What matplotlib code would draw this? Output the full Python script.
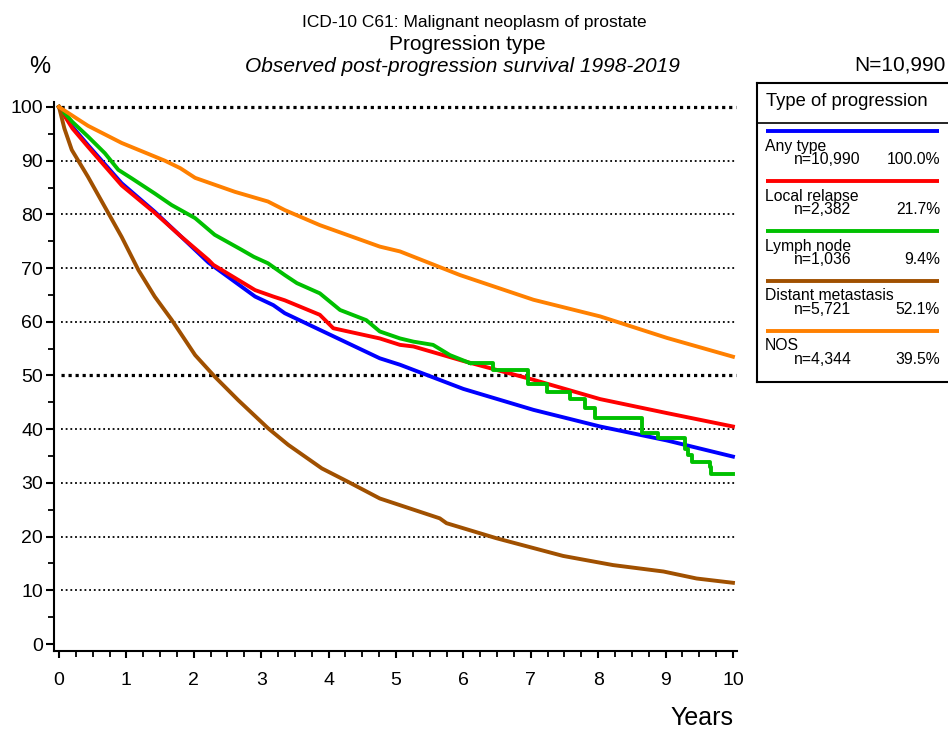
import matplotlib
matplotlib.use("Agg")
import matplotlib.pyplot as plt
import numpy as np

plt.rcParams['font.family'] = ['Liberation Sans', 'DejaVu Sans']

# survival (%) by years since progression, read per group
any_t = [0, 0.2, 0.43, 0.93, 1.42, 1.8, 2.22, 2.91, 3.18, 3.35, 3.87, 4.76, 5.06, 6.0, 7.04, 8.03, 9.02, 10.0]
any_v = [100, 96.3, 92.9, 85.8, 80.5, 76.0, 71.0, 64.7, 63.1, 61.6, 58.5, 53.2, 52.0, 47.5, 43.6, 40.5, 37.9, 34.9]

local_t = [0, 0.2, 0.43, 0.93, 1.42, 1.8, 2.22, 2.29, 2.91, 3.18, 3.35, 3.87, 4.07, 4.76, 5.06, 5.26, 6.0, 7.04, 8.03, 9.02, 10.0]
local_v = [100, 96.0, 92.6, 85.4, 80.3, 76.0, 71.5, 70.6, 65.9, 64.7, 64.0, 61.3, 58.8, 56.9, 55.7, 55.4, 52.7, 49.2, 45.6, 43.0, 40.5]

lymph_t = [0, 0.2, 0.43, 0.68, 0.88, 1.08, 1.42, 1.67, 2.02, 2.31, 2.71, 2.89, 3.1, 3.35, 3.53, 3.87, 4.17,
           4.56, 4.76, 5.06, 5.26, 5.55, 5.8, 6.1,
           6.44, 6.96, 7.24, 7.58, 7.80, 7.95, 8.65, 8.89, 9.29, 9.34, 9.39, 9.66, 9.68, 10.0]
lymph_v = [100, 97.2, 94.5, 91.4, 88.3, 86.7, 83.9, 81.75, 79.3, 76.2, 73.4, 72.1, 70.9, 68.7, 67.2, 65.3, 62.2,
           60.3, 58.2, 56.9, 56.3, 55.7, 53.8, 52.3,
           51.0, 48.5, 47.0, 45.6, 43.9, 42.0, 39.2, 38.3, 36.4, 35.2, 33.9, 33.0, 31.7, 31.7]
lymph_step_from = 6.1  # few patients left: curve shown as steps

distant_t = [0, 0.08, 0.19, 0.43, 0.68, 0.93, 1.18, 1.42, 1.67, 2.02, 2.31, 2.66, 3.1, 3.4, 3.9, 4.29, 4.76,
             5.65, 5.75, 6.49, 7.48, 8.22, 8.97, 9.46, 10.0]
distant_v = [100, 96.0, 92.0, 87.0, 81.4, 75.8, 69.6, 64.7, 60.4, 53.8, 49.8, 45.4, 40.2, 37.1, 32.7, 30.2, 27.1,
             23.4, 22.5, 19.7, 16.4, 14.7, 13.5, 12.2, 11.4]

nos_t = [0, 0.43, 0.93, 1.57, 1.8, 2.02, 2.61, 3.1, 3.35, 3.87, 4.76, 5.06, 5.95, 7.04, 8.03, 9.02, 10.0]
nos_v = [100, 96.5, 93.3, 90.0, 88.6, 86.8, 84.2, 82.4, 80.8, 78.0, 74.0, 73.1, 68.7, 64.1, 61.0, 57.0, 53.5]

group_names = ['Any type', 'Local relapse', 'Lymph node', 'Distant metastasis', 'NOS']
group_n = ['n=10,990', 'n=2,382', 'n=1,036', 'n=5,721', 'n=4,344']
group_pct = ['100.0%', '21.7%', '9.4%', '52.1%', '39.5%']
group_colors = ['#0000FF', '#FF0000', '#00C000', '#A05000', '#FF8000']

y_ticks = np.arange(0, 101, 10)
x_ticks = np.arange(0, 11, 1)

W, H = 948, 729
fig = plt.figure(figsize=(W / 100, H / 100), dpi=100)

ax = fig.add_axes([54 / W, 1 - 651 / H, (737 - 54) / W, (651 - 101.6) / H])
ax.set_xlim(-0.074, 10.06)
ax.set_ylim(-1.3, 101)

# dotted reference lines, heavier at 50 and 100
for lv in y_ticks[1:]:
    heavy = lv in (50, 100)
    ax.axhline(lv, xmin=0.01, xmax=0.998, color='black', linestyle=(0, (1, 1.2)) if heavy else (0, (1, 1.6)),
               linewidth=2.3 if heavy else 1.3, zorder=1)

lw = 2.8
ax.plot(any_t, any_v, color=group_colors[0], lw=lw, zorder=3)
ax.plot(local_t, local_v, color=group_colors[1], lw=lw, zorder=3)
lt = np.array(lymph_t)
lv_ = np.array(lymph_v)
early = lt <= lymph_step_from
ax.plot(lt[early], lv_[early], color=group_colors[2], lw=lw, zorder=3)
late = lt >= lymph_step_from
ax.plot(lt[late], lv_[late], color=group_colors[2], lw=lw, drawstyle='steps-post', zorder=3)
ax.plot(distant_t, distant_v, color=group_colors[3], lw=lw, zorder=3)
ax.plot(nos_t, nos_v, color=group_colors[4], lw=lw, zorder=3)

for side in ('top', 'right'):
    ax.spines[side].set_visible(False)
for side in ('left', 'bottom'):
    ax.spines[side].set_linewidth(1.5)

ax.set_yticks(y_ticks)
ax.set_yticks(np.arange(5, 100, 10), minor=True)
ax.set_xticks(x_ticks)
ax.set_xticks(np.arange(0, 10.01, 0.25), minor=True)
ax.tick_params(axis='both', which='major', direction='out', width=1.5, labelsize=14)
ax.tick_params(axis='y', which='major', length=6, pad=2)
ax.tick_params(axis='x', which='major', length=5, pad=10)
ax.tick_params(axis='both', which='minor', direction='out', width=1.3, length=4)

fig.text(733 / W, 1 - 718 / H, 'Years', ha='right', va='center', fontsize=18)
fig.text(40 / W, 1 - 67 / H, '%', ha='center', va='center', fontsize=17)

fig.text(474 / W, 1 - 23 / H, 'ICD-10 C61: Malignant neoplasm of prostate', ha='center', va='center', fontsize=12.5)
fig.text(467 / W, 1 - 44 / H, 'Progression type', ha='center', va='center', fontsize=15)
fig.text(462 / W, 1 - 66 / H, 'Observed post-progression survival 1998-2019', ha='center', va='center',
         fontsize=15, style='italic')
fig.text(946 / W, 1 - 65 / H, 'N=10,990', ha='right', va='center', fontsize=15)

# legend box, drawn in pixel units
lax = fig.add_axes([757 / W, 1 - 382 / H, 200 / W, (382 - 83) / H])
lax.set_xlim(0, 200)
lax.set_ylim(299, 0)
lax.set_xticks([])
lax.set_yticks([])
for s in lax.spines.values():
    s.set_linewidth(1.5)
lax.text(9, 18, 'Type of progression', ha='left', va='center', fontsize=13.2)
lax.axhline(40, color='black', lw=1.2)
for i, (name, n, pct, col) in enumerate(zip(group_names, group_n, group_pct, group_colors)):
    y0 = 48 + 50 * i
    lax.plot([9, 182], [y0, y0], color=col, lw=2.8, solid_capstyle='butt')
    lax.text(8, y0 + 15, name, ha='left', va='center', fontsize=11.3)
    lax.text(37, y0 + 29, n, ha='left', va='center', fontsize=11.3)
    lax.text(183, y0 + 29, pct, ha='right', va='center', fontsize=11.3)

fig.savefig('out.png', dpi=100)
